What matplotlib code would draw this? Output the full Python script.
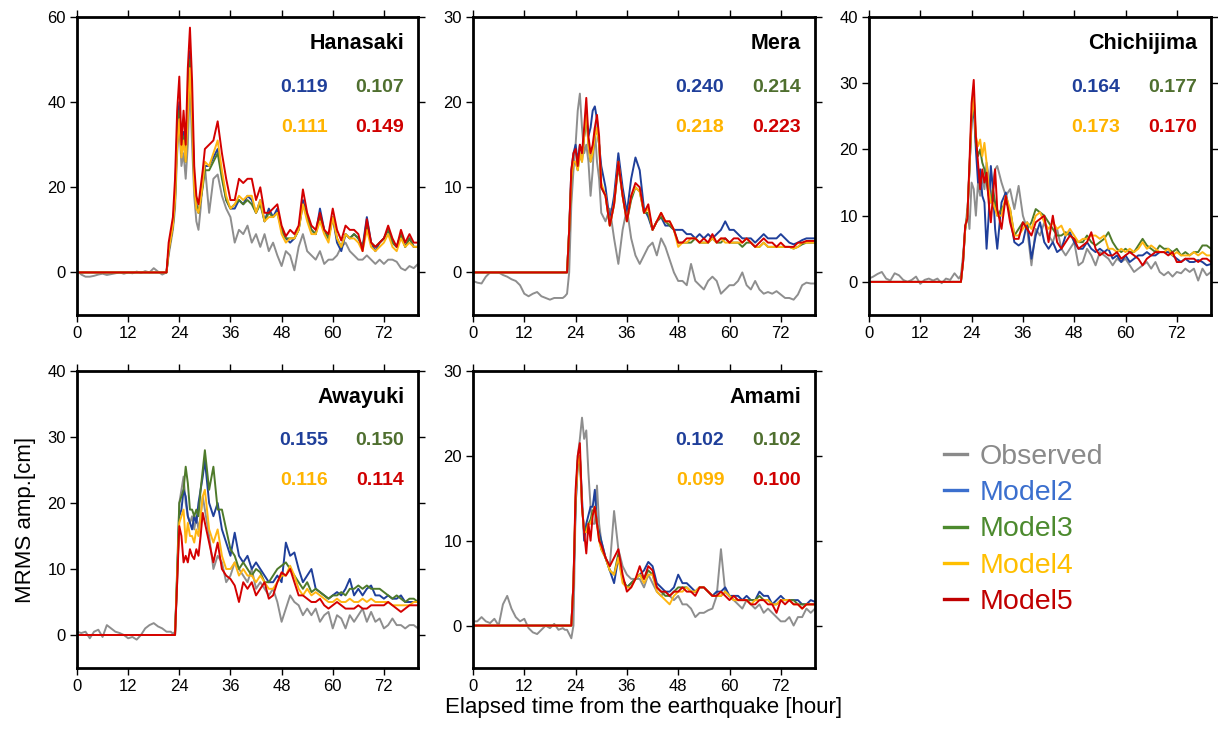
import matplotlib
matplotlib.use('Agg')
import matplotlib.pyplot as plt
from matplotlib.lines import Line2D
import numpy as np

plt.rcParams['font.family'] = ['Liberation Sans', 'DejaVu Sans']

# time grids [hour]: observed hourly with half-hour steps over the onset,
# models start at zero and only need the 0 h point before the onset
t_obs = np.concatenate([np.arange(0, 21), np.arange(21, 30.5, 0.5), np.arange(31, 81)])
t_mod = np.concatenate([[0], np.arange(21, 30.5, 0.5), np.arange(31, 81)])

# ---------------- Hanasaki ----------------
hanasaki_obs = [0.5, -0.5, -1.0, -1.0, -0.8, -0.5, -0.3, -0.6, -0.4, -0.2, 0.0, -0.3, 0.0, -0.2, 0.2, -0.1, 0.3, 0.0, 1.0, 0.2, -0.5,
                0, 4, 7, 10, 15, 28, 35, 25, 28, 22, 30, 45, 30, 18, 12, 10, 15, 22, 25,
                14, 22, 23, 18, 15, 13, 7, 10, 9, 11, 7, 9, 6, 9, 5, 7, 4, 1.5, 5, 4, 0.5, 6, 9, 5, 4,
                3, 5, 2, 3, 3, 4, 6, 7, 5, 4, 3, 3, 4, 3, 2, 3, 2, 3, 3, 2.5, 1, 0.5, 1.5, 1, 2]
hanasaki_m2 = [0,
               0, 5, 8, 11, 18, 33, 40, 28, 33, 27, 40, 52, 38, 22, 16, 14, 17, 21, 25,
               25, 27, 29, 23, 17, 15, 15, 17, 16, 18, 17, 14, 17, 12, 15, 13, 15, 10, 8, 7, 8, 10, 17, 13, 10,
               9, 15, 10, 8, 13, 7, 5, 9, 8, 9, 8, 6, 13, 7, 5, 7, 8, 10, 7, 6, 9, 6, 8, 6, 6]
hanasaki_m3 = [0,
               0, 5, 8, 11, 17, 32, 38, 28, 32, 26, 38, 50, 37, 21, 16, 14, 17, 20, 24,
               24, 26, 28, 22, 17, 15, 16, 17, 16, 17, 16, 14, 16, 12, 14, 13, 14, 10, 8, 8, 8, 10, 16, 13, 10,
               9, 13, 10, 8, 13, 8, 6, 9, 8, 9, 8, 6, 11, 7, 6, 7, 8, 10, 7, 6, 9, 6, 8, 6, 6]
hanasaki_m4 = [0,
               0, 5, 8, 11, 17, 30, 36, 27, 31, 26, 37, 48, 36, 20, 15, 14, 17, 21, 26,
               25, 28, 31, 24, 18, 15, 16, 18, 17, 18, 18, 14, 17, 12, 13, 13, 14, 9, 7, 8, 8, 10, 16, 12, 9,
               9, 12, 9, 7, 13, 8, 6, 9, 8, 8, 7, 5, 10, 6, 5, 6, 7, 9, 6, 5, 8, 6, 7, 6, 6]
hanasaki_m5 = [0,
               0, 7, 10, 13, 22, 38, 46, 30, 38, 30, 48, 57.5, 45, 25, 18, 16, 20, 24, 29,
               30, 31, 35.5, 28, 22, 17, 17, 22, 21, 22, 22, 17, 20, 14, 14, 15, 16, 11, 8.5, 10, 9, 11, 19.5, 14, 11,
               10, 14, 10, 9, 15, 10, 7.5, 11, 10, 10, 9, 5, 12.5, 7, 6, 7, 8, 11, 8, 6, 10, 7, 9, 7, 7]

# ---------------- Mera ----------------
mera_obs = [-1.0, -1.2, -1.3, -0.5, 0.0, 0.0, 0.0, -0.3, -0.5, -0.8, -1.0, -1.5, -2.5, -2.8, -2.5, -2.3, -2.8, -3.0, -3.2, -3.0, -3.0,
            -3.0, -2.8, -2.5, 0.0, 8, 12, 15, 19, 21, 17, 14, 15, 13, 9, 12, 17, 13, 11, 7,
            6, 7.5, 4, 1, 5, 7.5, 4, 2, 1, 2, 3, 3.5, 2, 4, 3, 1.5, 0, -1, -1, -1.5, 1, -1, -1.5, -2, -1,
            -0.5, -1, -2.5, -2, -1.5, -1.5, -1, 0, -1.5, -2, -1, -2, -2.5, -2.3, -2.5, -2.2, -2.6, -3, -3, -3.2, -2.6, -1.5, -1.2, -1.3, -1.3]
mera_m2 = [0,
           0, 0, 0, 5, 12, 14, 15, 13, 15, 14, 16, 18, 16, 17, 19, 19.5, 18, 15, 12.5,
           10, 6, 9, 14, 10, 7, 11, 13.5, 12, 7.5, 6.5, 5, 6, 6.5, 5.5, 5.5, 5, 5, 5, 4.5, 4.5, 4, 4.5, 4, 4.5,
           4, 4.5, 5, 6, 5, 5, 4.5, 4, 4, 4, 3.5, 4, 4.5, 4, 4, 4, 4.5, 4, 3.5, 3.3, 3.5, 3.8, 4, 4, 4]
mera_m3 = [0,
           0, 0, 0, 5, 11, 13, 13, 12, 14, 13, 16, 19, 15, 13, 14, 16, 17, 15, 10,
           9, 5.5, 8, 12.5, 9, 6, 8.5, 10, 9.5, 7, 7, 5, 6, 6.5, 6, 5.5, 5, 3.5, 3.5, 3.5, 3.5, 4, 3.5, 3.5, 3.5,
           4, 3.5, 3.5, 4, 3.5, 3.5, 3.5, 3, 3.5, 3.5, 3, 3, 3.5, 3, 3, 3, 3, 3, 3, 2.8, 3, 3.3, 3.5, 3.5, 3.5]
mera_m4 = [0,
           0, 0, 0, 5, 11, 13, 13, 12, 14, 13, 16, 19, 15, 13, 14, 16, 17, 15, 10.5,
           9, 5.5, 8, 13, 9, 6, 9, 10, 9.5, 7, 7.5, 5, 6, 7, 6, 6, 5, 3, 3.5, 3.5, 4, 4, 3.5, 3.5, 3.5,
           4, 3.5, 4, 3.5, 3.5, 3.5, 3.5, 3.5, 4, 3.5, 3, 3, 3.5, 3, 3, 3, 3, 3, 3, 2.8, 3, 3.5, 3.5, 3.5, 3.5]
mera_m5 = [0,
           0, 0, 0, 5, 12, 14, 14.5, 12.5, 15, 14, 17, 20.5, 16, 14, 15, 17, 18.5, 16, 10,
           9, 5.5, 8, 13, 9, 6, 9, 10.5, 10, 7, 8, 5, 6, 7, 6, 6, 5, 3.5, 3.5, 4, 4, 4, 3.5, 4, 3.5,
           4.5, 3.5, 4, 4, 3.5, 4, 4, 3.5, 4, 3.5, 3, 3.5, 4, 3.5, 3.5, 3, 3.5, 3, 3, 3, 3.5, 3.5, 3.7, 3.7, 3.7]

# ---------------- Chichijima ----------------
chichijima_obs = [0.5, 0.8, 1.2, 1.5, 0.5, 0.2, 1.3, 1.0, 0.3, 0.0, 0.3, 0.8, -0.3, 0.3, 0.5, 0.2, 0.5, -0.2, 0.5, 0.3, 1.3,
                  0.5, 1, 4, 8, 11, 8, 15, 14, 10, 15, 13, 16, 14, 18, 16, 12, 15, 17, 17.5,
                  15, 13, 14, 11, 14.5, 10, 8, 2.5, 8, 7, 9, 7, 6, 8, 5, 4, 5, 6, 2.5, 3, 5, 4, 2.5, 4.5, 4,
                  3.5, 2.5, 3.5, 3, 3.5, 2.5, 1.5, 2, 2.5, 3, 2, 3, 1.5, 1, 1.5, 0.8, 1.5, 1.3, 2, 1.5, 2, 0.2, 2, 1, 1.5]
chichijima_m2 = [0,
                 0, 0, 3, 8, 10, 17, 24, 26.5, 20, 15, 17, 13, 12, 5, 10, 17.5, 14, 8, 5,
                 12, 13.5, 10, 6, 5.5, 6, 9, 3.5, 7, 9, 6, 5, 6, 4.5, 5, 7, 7.5, 6, 5, 5, 6, 5, 4.5, 5, 4.5,
                 5, 3.5, 4, 3, 4, 3, 3.5, 4, 4, 4.5, 4, 4, 4.5, 4.5, 4.5, 4, 3.5, 3, 3.5, 3, 3, 3.3, 3, 2.5, 2.7]
chichijima_m3 = [0,
                 0, 0, 3, 8, 10, 17, 25, 28, 21, 19, 20, 18, 17, 15, 13, 12, 14, 12, 10,
                 11, 12, 11, 7, 8, 9, 8, 9, 11, 10.5, 10, 9, 8, 7, 7, 7.5, 7, 6.5, 6, 6, 7, 6, 5.5, 6, 6.5,
                 7.5, 6, 5, 4.5, 5, 4.5, 4.5, 5.5, 6.5, 5.5, 5, 4.5, 5.5, 5, 5, 4.5, 5, 4, 4.5, 4, 4.5, 4.5, 5.5, 5.5, 5]
chichijima_m4 = [0,
                 0, 0, 3, 8, 10, 17, 25, 28, 22, 20.5, 21.5, 19, 21, 18, 14, 12, 12, 11, 10,
                 10, 13, 11, 7, 7, 8, 9, 8, 10, 10.5, 9, 8, 9, 8, 8.5, 7, 8, 7, 6, 6.5, 6.5, 7, 7, 6.5, 7,
                 5, 5, 4.5, 5, 4.5, 5, 4.5, 5, 6, 5, 5.5, 5, 4.5, 4.5, 5, 4, 4.5, 4, 4, 4, 4.5, 4, 4.5, 4, 4]
chichijima_m5 = [0,
                 0, 0, 3, 8.5, 9.5, 18, 27, 30.5, 22, 18, 14, 17, 15, 16.5, 12, 9, 13, 17, 11,
                 8, 13, 9, 6.5, 6.5, 9, 8, 7, 9, 9.5, 10, 6, 10, 6, 5, 6, 7, 6.5, 5, 5.5, 6, 7.5, 5, 4, 4.5,
                 4, 4, 4.5, 3.5, 4, 4.5, 4, 3.5, 2.5, 3.5, 4, 4.5, 4.5, 4.5, 4, 4.5, 3, 3, 3.5, 3.5, 3.5, 3, 3.5, 3.5, 3]

# ---------------- Awayuki ----------------
awayuki_obs = [0.5, 0.3, 0.5, -0.5, 0.5, 0.8, -0.3, 1.5, 1.0, 0.5, 0.3, 0.0, -0.5, -0.3, -0.7, 0.0, 1.0, 1.5, 1.8, 1.3, 1.0,
               0.5, 0.5, 0.5, 0.2, 0.5, 8, 20, 22, 24, 20, 18, 17, 18, 16, 18, 16, 18, 21, 19,
               15, 10, 12, 11, 8, 9, 11, 10, 9, 8, 10, 7, 8, 7, 6, 7, 5, 2, 4, 6, 5, 4.5, 3, 4, 3,
               4, 2, 3, 3.5, 1, 3, 2.5, 1, 3, 2, 3, 4, 2, 3.5, 2, 2.5, 1, 1.5, 2.5, 1.5, 1.5, 1, 1.5, 1.5, 1]
awayuki_m2 = [0,
              0, 0, 0, 0, 0, 9, 18, 19, 22, 21, 18, 17, 16, 18, 17, 20, 22, 24, 26.5,
              20, 18, 20, 16, 14, 12, 15.5, 12, 11, 12, 10, 11, 10, 9, 8, 8, 9, 8, 14, 12, 12.5, 10, 8, 9, 10,
              7, 6.5, 6, 5.5, 6, 6.5, 6, 7, 8.5, 6, 7, 6, 7, 7.5, 6, 6, 5.5, 6, 5.5, 5.5, 6, 5, 5, 5, 5]
awayuki_m3 = [0,
              0, 0, 0, 0, 0, 10, 20, 21, 22, 25.5, 23, 19, 19, 18, 19, 18, 22, 25, 28,
              22, 25.5, 19, 19, 16, 13, 12, 10, 11, 10, 9, 10, 9.5, 8, 8, 9, 10, 10.5, 11, 10, 9, 8, 7, 8, 6.5,
              7, 6.5, 6, 5.5, 6, 6, 6.5, 6, 7, 7, 7.5, 7, 7.5, 7, 7, 7, 6.5, 6, 5.5, 6, 5.5, 5, 5.5, 5.5, 5]
awayuki_m4 = [0,
              0, 0, 0, 0, 0, 9, 17, 18, 19, 14, 17, 15, 15, 14, 16, 15, 18, 21, 22,
              16, 14, 16, 12, 10, 10, 11, 9, 10, 9, 9, 8, 9, 8, 7, 7, 8, 9, 9, 10.5, 9, 7, 6, 7, 6,
              6.5, 6, 5.5, 5, 5, 5.5, 5, 5, 5.5, 5, 5, 5.5, 5, 5.5, 5, 5, 5, 5, 4.5, 4.5, 4.5, 4.5, 4.5, 5, 5]
awayuki_m5 = [0,
              0, 0, 0, 0, 0, 8, 16.5, 15, 11, 12, 11, 13, 12, 11.5, 13, 12, 15, 18.5, 17,
              14, 11, 14, 10, 9, 8.5, 7.5, 5, 8, 7, 8, 6, 7, 8, 5.5, 6, 8, 9.5, 9, 10, 8, 6, 6, 5.5, 5,
              5, 5.5, 4.5, 4, 4.5, 5, 4.5, 4, 4, 4, 4.5, 4, 4, 4.5, 4.5, 4.5, 4.5, 5, 4.5, 4, 3.5, 4, 4.5, 4.5, 4.5]

# ---------------- Amami ----------------
amami_obs = [0.5, 0.5, 1.0, 0.5, 0.3, 0.8, 0.0, 2.5, 3.5, 2.0, 1.0, 0.5, 0.8, -0.3, -0.8, -1.0, -0.5, 0.0, -0.3, 0.2, -0.5,
             -0.3, -0.5, -0.5, -1.0, -1.5, 0, 14, 20, 22, 24.5, 22, 23, 18, 14, 12, 12, 16.5, 12, 10,
             8, 7, 13.5, 9, 7, 6, 5.5, 5.5, 5.5, 4.5, 6, 5, 4, 3.5, 4, 3.5, 3, 3.5, 2.5, 2.5, 2, 1, 1.5, 1.5, 1.8,
             2, 3.5, 9, 4, 3.5, 3, 2.5, 2, 3, 2.5, 2, 2.5, 1.5, 2, 1.5, 1, 0.5, 0.5, 1, 0, 1, 1, 2, 1.5, 2]
amami_m2 = [0,
            0, 0, 0, 0, 0, 5, 14, 19, 20, 15, 10, 12, 13, 14, 14, 16, 12, 11, 10,
            8, 6.5, 5, 8, 5.5, 4.5, 5, 5.5, 6, 6.5, 7.5, 7, 5, 4.5, 4, 4, 4.5, 6, 5, 5, 4.5, 4, 4.5, 4.5, 4,
            3.5, 4, 4, 4.5, 3.5, 3.5, 3.5, 3, 3.5, 3, 3, 4, 3.5, 3.5, 2.5, 3, 3.5, 3, 3, 3, 3, 2.5, 2.5, 3, 2.8]
amami_m3 = [0,
            0, 0, 0, 0, 0, 5, 15, 19.5, 20, 14, 11, 11.5, 12, 12.5, 13.5, 14, 12, 10.5, 9,
            8, 6.5, 6, 8.5, 5.5, 4.5, 5, 5.5, 6, 5.5, 6.5, 6, 4.5, 4, 3.5, 3.5, 4, 4.5, 4.5, 4.5, 4, 4, 4.5, 4.5, 4,
            3.5, 3.5, 3.5, 4, 3.5, 3, 3, 3, 3, 3, 3, 3.5, 3, 3, 2.5, 2.5, 3, 3, 3, 3, 2.5, 2.5, 2.5, 2.5, 2.5]
amami_m4 = [0,
            0, 0, 0, 0, 0, 5, 15, 19, 20, 14, 11, 11, 12, 12, 13, 14, 12, 10, 9,
            8, 6.5, 6, 8, 5, 4.5, 4.5, 5.5, 6, 5, 6, 6, 4, 3.5, 3, 2.5, 3.5, 4, 4, 4.5, 4, 4, 4.5, 4.5, 4,
            3.5, 3.5, 3.5, 4, 3.5, 3, 3, 3, 3, 2.5, 3, 3, 3, 3, 2.5, 2.5, 3, 3, 3, 2.5, 2.5, 2, 2.5, 2.5, 2.5]
amami_m5 = [0,
            0, 0, 0, 0, 0, 5, 16, 20, 21.5, 14, 11, 8.5, 12, 10, 13, 14, 12, 10, 9.5,
            8, 7, 8, 9, 6, 4, 4.5, 5.5, 7, 5.5, 7, 6.5, 4.5, 4, 4, 3.5, 4, 4, 4.5, 4, 4, 3.5, 4.5, 4.5, 4,
            3.5, 3.5, 4, 3.5, 3, 3.5, 3, 3, 3, 2.5, 2.5, 3, 3, 2.5, 2.5, 1.5, 3, 2.5, 3, 2.5, 2.5, 2, 2.5, 2.5, 2.5]

# scores shown in each panel: Model2, Model3 (top row), Model4, Model5 (bottom row)
hanasaki_score = ['0.119', '0.107', '0.111', '0.149']
mera_score = ['0.240', '0.214', '0.218', '0.223']
chichijima_score = ['0.164', '0.177', '0.173', '0.170']
awayuki_score = ['0.155', '0.150', '0.116', '0.114']
amami_score = ['0.102', '0.102', '0.099', '0.100']

stations = ['Hanasaki', 'Mera', 'Chichijima', 'Awayuki', 'Amami']
ylims = [(-10, 60), (-5, 30), (-5, 40), (-5, 40), (-5, 30)]
yticks = [[0, 20, 40, 60], [0, 10, 20, 30], [0, 10, 20, 30, 40], [0, 10, 20, 30, 40], [0, 10, 20, 30]]

obs_data = [hanasaki_obs, mera_obs, chichijima_obs, awayuki_obs, amami_obs]
mod_data = [[hanasaki_m2, hanasaki_m3, hanasaki_m4, hanasaki_m5],
            [mera_m2, mera_m3, mera_m4, mera_m5],
            [chichijima_m2, chichijima_m3, chichijima_m4, chichijima_m5],
            [awayuki_m2, awayuki_m3, awayuki_m4, awayuki_m5],
            [amami_m2, amami_m3, amami_m4, amami_m5]]
scores = [hanasaki_score, mera_score, chichijima_score, awayuki_score, amami_score]

obs_color = '#8e8e8e'
mod_colors = ['#1f3f9a', '#4e7a2a', '#ffb612', '#d40000']
score_colors = ['#1f3f9a', '#4f6f2f', '#ffb400', '#d00000']
legend_colors = ['#8a8a8a', '#3b6fce', '#4c8a2e', '#ffbf00', '#c00000']
legend_labels = ['Observed', 'Model2', 'Model3', 'Model4', 'Model5']

W, H = 1218, 733
fig = plt.figure(figsize=(W / 100, H / 100), dpi=100)

# axes boxes in pixels: left, top, right, bottom
boxes = [(77, 17, 418, 315), (473, 17, 815, 315), (869, 17, 1211, 315),
         (77, 371, 418, 668), (473, 371, 815, 668)]

for i, name in enumerate(stations):
    l, t, r, b = boxes[i]
    ax = fig.add_axes([l / W, 1 - b / H, (r - l) / W, (b - t) / H])
    ax.plot(t_obs, obs_data[i], color=obs_color, lw=1.4)
    for vals, c in zip(mod_data[i], mod_colors):
        ax.plot(t_mod, vals, color=c, lw=1.4)
    ax.set_xlim(0, 80)
    ax.set_ylim(*ylims[i])
    ax.set_xticks([0, 12, 24, 36, 48, 60, 72])
    ax.set_yticks(yticks[i])
    ax.tick_params(direction='out', length=5, width=1, top=True, right=True,
                   labelsize=12, pad=3)
    for s in ax.spines.values():
        s.set_linewidth(2)
    ax.text(0.96, 0.91, name, transform=ax.transAxes, ha='right', va='center',
            fontsize=15.5, fontweight='bold')
    pos = [(0.735, 0.765), (0.96, 0.765), (0.735, 0.63), (0.96, 0.63)]
    for (x, y), s, c in zip(pos, scores[i], score_colors):
        ax.text(x, y, s, transform=ax.transAxes, ha='right', va='center',
                fontsize=14, fontweight='bold', color=c)
    if name == 'Awayuki':
        ax.set_ylabel('MRMS amp.[cm]', fontsize=16, labelpad=8)
    if name == 'Amami':
        ax.set_xlabel('Elapsed time from the earthquake [hour]', fontsize=16, labelpad=2)

handles = [Line2D([], [], color=c, lw=2.4) for c in legend_colors]
leg = fig.legend(handles, legend_labels, loc='upper left',
                 bbox_to_anchor=(944 / W, 1 - 444 / H), frameon=False,
                 fontsize=20.5, handlelength=0.8, handletextpad=0.45,
                 labelspacing=0.36, borderpad=0, borderaxespad=0)
for txt, c in zip(leg.get_texts(), legend_colors):
    txt.set_color(c)

plt.savefig('out.png', dpi=100)
